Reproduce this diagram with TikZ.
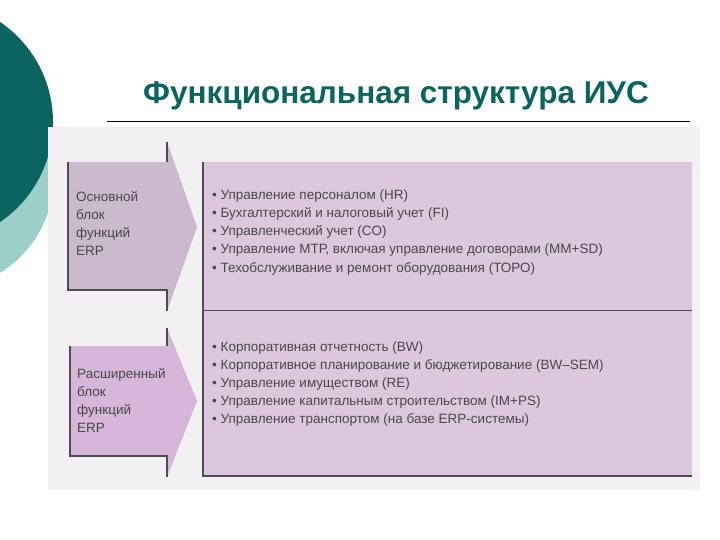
\documentclass[tikz,border=0pt]{standalone}
\usepackage{fontspec}
\setmainfont{Liberation Sans}
\usetikzlibrary{positioning}

\definecolor{darkteal}{RGB}{11,100,96}
\definecolor{lightteal}{RGB}{156,206,202}
\definecolor{scangray}{RGB}{242,240,242}
\definecolor{boxlilac}{RGB}{221,199,222}
\definecolor{arrowlilac}{RGB}{203,185,205}
\definecolor{arrowpink}{RGB}{214,183,217}
\definecolor{edgegray}{RGB}{82,74,84}
\definecolor{textgray}{RGB}{72,72,72}

\tikzset{
  item/.style={anchor=base west, inner sep=0pt, text=textgray, font=\fontsize{13.5}{15}\selectfont},
  edge/.style={draw=edgegray, line width=1.2pt},
}

\begin{document}
\begin{tikzpicture}[x=1pt,y=-1pt]
\useasboundingbox (0,0) rectangle (720,540);
\fill[white] (0,0) rectangle (720,540);
\fill[lightteal] (-60,176) circle (114);
\fill[darkteal] (-68,122) circle (121);
\node[text=darkteal, anchor=base, font=\fontsize{31.5}{33}\selectfont\bfseries] (title) at (396,104) {Функциональная структура ИУС};
\draw[line width=0.8pt] (107,121) -- (690,121);
\fill[scangray] (48,127) rectangle (700,490);

% arrows
\fill[arrowlilac] (68,162) -- (167,162) -- (167,142) -- (197,227) -- (167,311) -- (167,290) -- (68,290) -- cycle;
\draw[edge] (167,162) -- (167,142);
\draw[edge] (68,162) -- (68,290) -- (167,290) -- (167,311);
\fill[arrowpink] (70,346) -- (167,346) -- (167,328) -- (197,401) -- (167,477) -- (167,456) -- (70,456) -- cycle;
\draw[edge] (167,346) -- (167,328);
\draw[edge] (70,346) -- (70,456) -- (167,456) -- (167,477);

% box
\fill[boxlilac] (203,162) rectangle (692,476);
\draw[edge] (203,162) -- (203,476) -- (692,476);
\draw[edgegray, line width=0.8pt] (203,310) -- (692,310);

\node[item] (core1) at (76,202) {Основной};
\node[item] (core2) at (76,220) {блок};
\node[item] (core3) at (76,237) {функций};
\node[item] (core4) at (76,255) {ERP};
\node[item] (ext1) at (77,378) {Расширенный};
\node[item] (ext2) at (77,396) {блок};
\node[item] (ext3) at (77,414) {функций};
\node[item] (ext4) at (77,432) {ERP};

\node[item] (hr) at (212,200) {• Управление персоналом (HR)};
\node[item] (fi) at (212,218) {• Бухгалтерский и налоговый учет (FI)};
\node[item] (co) at (212,236) {• Управленческий учет (CO)};
\node[item] (mm) at (212,254) {• Управление МТР, включая управление договорами (MM+SD)};
\node[item] (toro) at (212,272) {• Техобслуживание и ремонт оборудования (ТОРО)};
\node[item] (bw) at (212,351) {• Корпоративная отчетность (BW)};
\node[item] (sem) at (212,369) {• Корпоративное планирование и бюджетирование (BW–SEM)};
\node[item] (re) at (212,387) {• Управление имуществом (RE)};
\node[item] (ps) at (212,405) {• Управление капитальным строительством (IM+PS)};
\node[item] (tr) at (212,423) {• Управление транспортом (на базе ERP-системы)};
\end{tikzpicture}
\end{document}
